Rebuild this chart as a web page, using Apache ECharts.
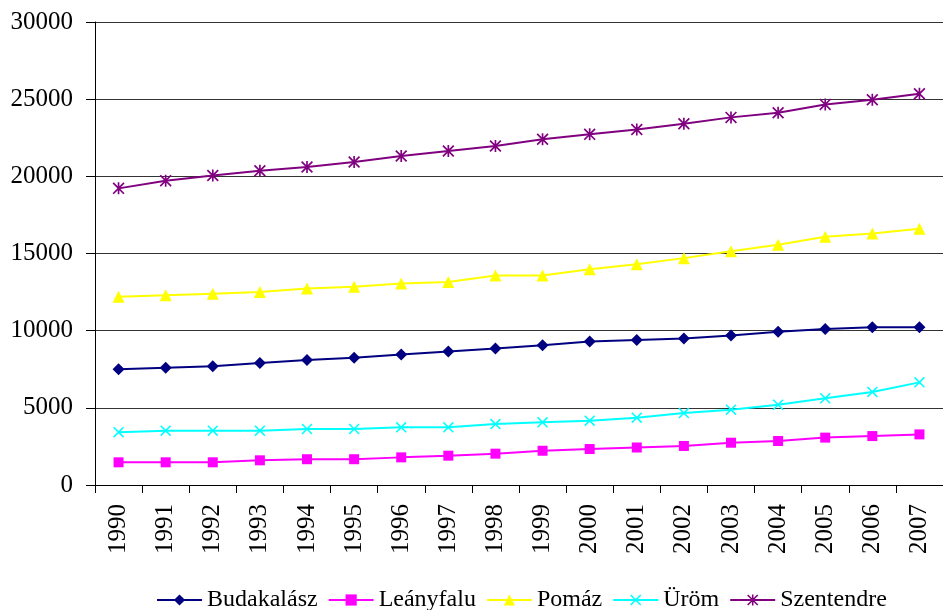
<!DOCTYPE html>
<html>
<head>
<meta charset="utf-8">
<script src="https://cdn.jsdelivr.net/npm/echarts@6/dist/echarts.min.js"></script>
<style>
html,body{margin:0;padding:0;background:#fff;}
#c{width:943px;height:610px;}
</style>
</head>
<body>
<div id="c"></div>
<script>
var years = ['1990','1991','1992','1993','1994','1995','1996','1997','1998','1999','2000','2001','2002','2003','2004','2005','2006','2007'];
var budakalasz = [7500,7600,7700,7900,8100,8250,8450,8650,8850,9050,9300,9400,9500,9680,9930,10100,10220,10220];
var leanyfalu = [1470,1470,1470,1600,1670,1670,1790,1900,2030,2220,2330,2430,2530,2740,2850,3070,3170,3280];
var pomaz = [12200,12300,12400,12500,12730,12850,13050,13150,13570,13570,13980,14300,14700,15150,15560,16080,16290,16600];
var urom = [3420,3520,3520,3520,3630,3630,3740,3740,3950,4060,4170,4360,4660,4880,5200,5620,6030,6650];
var szentendre = [19220,19720,20050,20360,20600,20930,21320,21640,21970,22400,22720,23030,23410,23820,24120,24660,24960,25350];
var yTicks = [0,5000,10000,15000,20000,25000,30000];

var xPath = 'path://M0,10 L10,0 L100,90 L90,100 Z M90,0 L100,10 L10,100 L0,90 Z';
var starPath = 'path://M0,10 L10,0 L100,90 L90,100 Z M90,0 L100,10 L10,100 L0,90 Z M43,0 L57,0 L57,100 L43,100 Z';
var font = '"Liberation Serif","Times New Roman",serif';

function mk(name, data, color, symbol, size) {
  return {
    name: name, type: 'line', data: data,
    symbol: symbol, symbolSize: size,
    lineStyle: {color: color, width: 2},
    itemStyle: {color: color},
    emphasis: {disabled: true},
    animation: false
  };
}

var chart = echarts.init(document.getElementById('c'));
chart.setOption({
  animation: false,
  backgroundColor: '#fff',
  grid: {left: 95, top: 22, right: -7, bottom: 125, containLabel: false},
  legend: {
    left: 151, top: 583,
    itemWidth: 45, itemHeight: 14, itemGap: 10,
    textStyle: {fontFamily: font, fontSize: 24, color: '#000'},
    data: ['Budakalász','Leányfalu','Pomáz','Üröm','Szentendre']
  },
  xAxis: {
    type: 'category', data: years, boundaryGap: true,
    axisLine: {lineStyle: {color: '#000', width: 1}},
    axisTick: {show: true, length: 8, lineStyle: {color: '#000'}},
    axisLabel: {rotate: 90, margin: 19, fontFamily: font, fontSize: 25, color: '#000'},
    splitLine: {show: false}
  },
  yAxis: {
    type: 'value', min: yTicks[0], max: yTicks[yTicks.length-1], interval: 5000,
    axisLine: {show: true, lineStyle: {color: '#000', width: 1}},
    axisTick: {show: true, length: 9, lineStyle: {color: '#000'}},
    axisLabel: {margin: 22, fontFamily: font, fontSize: 25, color: '#000',
      formatter: function (v) { return String(v); }},
    splitLine: {show: true, lineStyle: {color: '#333', width: 1}}
  },
  series: [
    mk('Budakalász', budakalasz, '#000080', 'diamond', 12),
    mk('Leányfalu', leanyfalu, '#FF00FF', 'rect', 10),
    mk('Pomáz', pomaz, '#FFFF00', 'triangle', 12),
    mk('Üröm', urom, '#00FFFF', xPath, 11),
    mk('Szentendre', szentendre, '#800080', starPath, 12)
  ]
});
</script>
</body>
</html>
